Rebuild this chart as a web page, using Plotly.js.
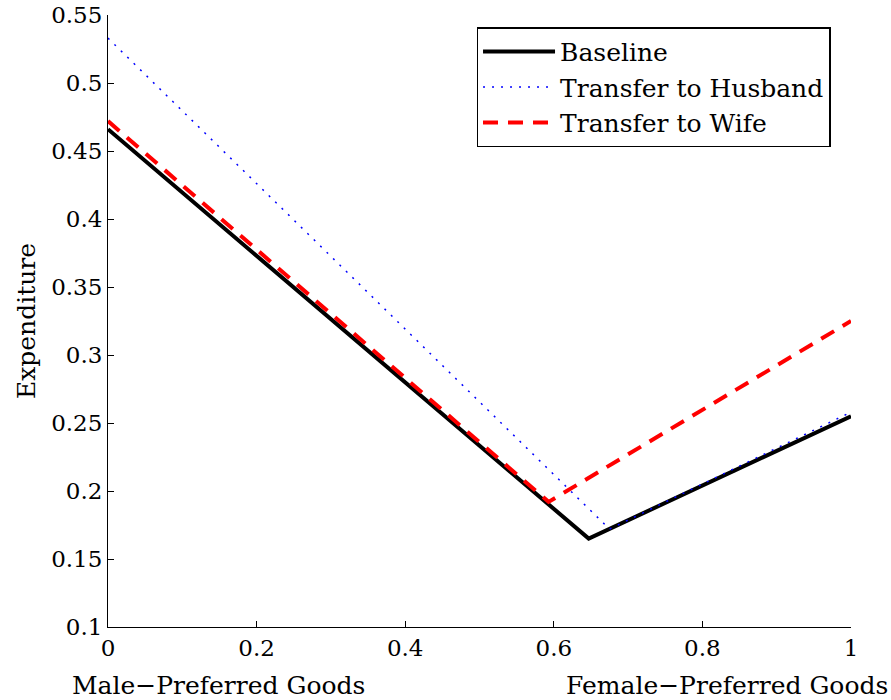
<!DOCTYPE html>
<html><head><meta charset="utf-8">
<script src="https://cdn.plot.ly/plotly-3.0.1.min.js"></script>
<style>body{margin:0;background:#fff}#c{width:891px;height:700px}</style>
</head><body><div id="c"></div>
<script>
const seriesNames = ["Baseline", "Transfer to Husband", "Transfer to Wife"];
const baselineX = [0, 0.647, 1];
const baselineY = [0.466, 0.165, 0.255];
const husbandX = [0, 0.675, 1];
const husbandY = [0.533, 0.172, 0.258];
const wifeX = [0, 0.593, 1];
const wifeY = [0.472, 0.192, 0.325];
const yTicks = [0.1, 0.15, 0.2, 0.25, 0.3, 0.35, 0.4, 0.45, 0.5, 0.55];
const yTickLabels = ["0.1", "0.15", "0.2", "0.25", "0.3", "0.35", "0.4", "0.45", "0.5", "0.55"];
const xTicks = [0, 0.2, 0.4, 0.6, 0.8, 1];
const xTickLabels = ["0", "0.2", "0.4", "0.6", "0.8", "1"];
const leftLabel = "Male\u2212Preferred Goods";
const rightLabel = "Female\u2212Preferred Goods";
const yLabel = "Expenditure";

const FONT = "'DejaVu Serif', serif";
function f(size) { return {family: FONT, size: size, color: "#000"}; }
const traces = [
  {x: baselineX, y: baselineY, name: seriesNames[0], mode: "lines",
   line: {color: "#000000", width: 4}},
  {x: husbandX, y: husbandY, name: seriesNames[1], mode: "lines",
   line: {color: "#0000ff", width: 1.5, dash: "2px,7px"}},
  {x: wifeX, y: wifeY, name: seriesNames[2], mode: "lines",
   line: {color: "#ff0000", width: 4, dash: "15px,10px"}}
];
function axis(extra) {
  return Object.assign({
    showgrid: false, zeroline: false, showline: true, linecolor: "#000", linewidth: 1,
    ticks: "inside", ticklen: 6, tickcolor: "#000", tickwidth: 1, mirror: false,
    tickfont: f(23)
  }, extra);
}
const layout = {
  width: 891, height: 700,
  margin: {l: 108, r: 40, t: 15, b: 73},
  paper_bgcolor: "#fff", plot_bgcolor: "#fff",
  font: f(23),
  xaxis: axis({range: [0, 1], tickvals: xTicks, ticktext: xTickLabels}),
  yaxis: axis({range: [0.1, 0.55], tickvals: yTicks, ticktext: yTickLabels,
    title: {text: yLabel, font: f(25), standoff: 8}}),
  showlegend: true,
  legend: {x: 0.496, y: 0.98, xanchor: "left", yanchor: "top", bgcolor: "#fff",
    bordercolor: "#000", borderwidth: 1.5, itemwidth: 72, tracegroupgap: 0,
    font: f(25)},
  annotations: [
    {text: leftLabel, xref: "paper", yref: "paper", x: -0.051, y: 0, yshift: -58, xanchor: "left", yanchor: "middle",
     showarrow: false, font: f(25)},
    {text: rightLabel, xref: "paper", yref: "paper", x: 1.052, y: 0, yshift: -58, xanchor: "right", yanchor: "middle",
     showarrow: false, font: f(25)}
  ]
};
Plotly.newPlot("c", traces, layout, {displayModeBar: false, staticPlot: true});
</script></body></html>
